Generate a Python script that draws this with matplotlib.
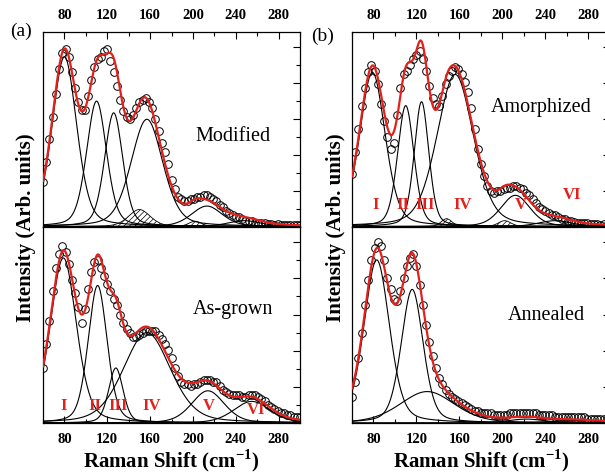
import numpy as np
import matplotlib
matplotlib.use('Agg')
import matplotlib.pyplot as plt

plt.rcParams['font.family'] = ['Liberation Serif', 'DejaVu Serif']
plt.rcParams['mathtext.fontset'] = 'custom'
plt.rcParams['mathtext.rm'] = 'Liberation Serif'
plt.rcParams['mathtext.bf'] = 'Liberation Serif:bold'
plt.rcParams['hatch.linewidth'] = 0.5

# Raman shift of the measured points (cm-1)
shift = np.arange(60, 301, 3)

# measured intensities (arb. units, normalised to panel height)
modified = [0.23, 0.33, 0.45, 0.56, 0.68, 0.81, 0.89, 0.91, 0.87, 0.79,
            0.71, 0.64, 0.60, 0.60, 0.67, 0.75, 0.82, 0.86, 0.87, 0.90,
            0.91, 0.85, 0.79, 0.72, 0.65, 0.59, 0.56, 0.55, 0.57, 0.61,
            0.64, 0.65, 0.66, 0.64, 0.61, 0.55, 0.49, 0.43, 0.38, 0.32,
            0.24, 0.19, 0.15, 0.14, 0.13, 0.13, 0.14, 0.14, 0.15, 0.15,
            0.16, 0.16, 0.15, 0.14, 0.13, 0.11, 0.10, 0.08, 0.07, 0.06,
            0.05, 0.05, 0.04, 0.03, 0.03, 0.03, 0.02, 0.02, 0.02, 0.02,
            0.015, 0.015, 0.01, 0.015, 0.01, 0.01, 0.01, 0.01, 0.01, 0.01,
            0.01]
as_grown = [0.28, 0.40, 0.52, 0.67, 0.79, 0.86, 0.90, 0.87, 0.81, 0.73,
            0.66, 0.59, 0.51, 0.58, 0.68, 0.77, 0.82, 0.83, 0.79, 0.75,
            0.71, 0.67, 0.63, 0.60, 0.55, 0.51, 0.48, 0.46, 0.44, 0.44,
            0.45, 0.46, 0.47, 0.47, 0.47, 0.47, 0.45, 0.43, 0.40, 0.37,
            0.33, 0.28, 0.24, 0.21, 0.20, 0.20, 0.19, 0.20, 0.20, 0.21,
            0.22, 0.22, 0.22, 0.21, 0.21, 0.19, 0.17, 0.16, 0.15, 0.14,
            0.14, 0.14, 0.13, 0.13, 0.14, 0.14, 0.14, 0.13, 0.12, 0.11,
            0.09, 0.08, 0.07, 0.06, 0.05, 0.05, 0.04, 0.04, 0.03, 0.03,
            0.03]
amorphized = [0.27, 0.38, 0.50, 0.62, 0.71, 0.79, 0.83, 0.80, 0.73, 0.63,
              0.54, 0.46, 0.40, 0.43, 0.57, 0.71, 0.78, 0.80, 0.83, 0.86,
              0.88, 0.90, 0.86, 0.80, 0.72, 0.66, 0.63, 0.62, 0.67, 0.73,
              0.77, 0.80, 0.82, 0.81, 0.78, 0.74, 0.69, 0.61, 0.50, 0.40,
              0.32, 0.26, 0.21, 0.18, 0.17, 0.18, 0.18, 0.19, 0.20, 0.20,
              0.21, 0.21, 0.20, 0.19, 0.17, 0.16, 0.14, 0.12, 0.10, 0.09,
              0.08, 0.07, 0.06, 0.06, 0.05, 0.04, 0.04, 0.03, 0.03, 0.025,
              0.02, 0.02, 0.02, 0.02, 0.015, 0.015, 0.015, 0.01, 0.015, 0.01,
              0.01]
annealed = [0.13, 0.21, 0.33, 0.46, 0.60, 0.73, 0.83, 0.89, 0.92, 0.90,
            0.83, 0.74, 0.68, 0.63, 0.62, 0.67, 0.74, 0.80, 0.84, 0.86,
            0.80, 0.70, 0.60, 0.50, 0.41, 0.34, 0.28, 0.23, 0.20, 0.17,
            0.15, 0.13, 0.12, 0.11, 0.10, 0.09, 0.08, 0.07, 0.06, 0.06,
            0.05, 0.05, 0.05, 0.05, 0.04, 0.04, 0.04, 0.04, 0.04, 0.05,
            0.05, 0.05, 0.05, 0.05, 0.05, 0.05, 0.05, 0.05, 0.04, 0.04,
            0.04, 0.04, 0.04, 0.03, 0.03, 0.03, 0.03, 0.03, 0.03, 0.03,
            0.03, 0.03, 0.03, 0.02, 0.02, 0.02, 0.02, 0.02, 0.02, 0.02,
            0.02]

# fitted bands: centre (cm-1), height, half width at half maximum
mod_centers = [80, 110, 126, 157, 213, 248]
mod_heights = [0.87, 0.643, 0.583, 0.55, 0.105, 0.03]
mod_widths = [13.5, 11, 10, 17.5, 17, 18]
mod_extra_centers = [150, 202]
mod_extra_heights = [0.087, 0.027]
mod_extra_widths = [12, 7]

grown_centers = [79, 111, 128, 157, 214, 255]
grown_heights = [0.84, 0.70, 0.28, 0.46, 0.164, 0.11]
grown_widths = [14.4, 10.5, 8, 26, 18, 20]

amo_centers = [79, 110, 124.7, 156, 212, 249]
amo_heights = [0.79, 0.62, 0.64, 0.78, 0.16, 0.03]
amo_widths = [14, 9, 8, 20, 16, 18]
amo_extra_centers = [148, 202]
amo_extra_heights = [0.04, 0.03]
amo_extra_widths = [6, 7]

ann_centers = [83, 116, 130, 222, 268]
ann_heights = [0.83, 0.68, 0.16, 0.02, 0.012]
ann_widths = [14, 12, 30, 20, 30]

mode_names = ['I', 'II', 'III', 'IV', 'V', 'VI']
grown_label_x = [79.5, 108.4, 129.8, 161.4, 214.4, 259]
grown_label_y = [0.045, 0.045, 0.045, 0.045, 0.045, 0.025]
amo_label_x = [81.6, 107.7, 127.8, 163.2, 217, 264.7]
amo_label_y = [0.07, 0.07, 0.07, 0.07, 0.07, 0.12]

tick_values = [80, 120, 160, 200, 240, 280]
RED = '#e3211c'


def pseudo_voigt(x, center, height, hwhm, eta=0.3):
    u = (x - center) / hwhm
    return height * (eta / (1 + u ** 2) + (1 - eta) * np.exp(-np.log(2) * u ** 2))


def draw_panel(ax, data, centers, heights, widths,
               extra=([], [], []), top=False):
    grid = np.linspace(60, 300, 601)
    total = np.zeros_like(grid)
    for c, h, w in zip(*extra):
        band = pseudo_voigt(grid, c, h, w)
        ax.fill_between(grid, 0, band, facecolor='none', edgecolor='black',
                        hatch='//////', lw=0.6, zorder=1)
        total += band
    for c, h, w in zip(centers, heights, widths):
        band = pseudo_voigt(grid, c, h, w)
        ax.plot(grid, band, color='black', lw=0.8, zorder=2)
        total += band
    ax.plot(shift, data, 'o', mfc='none', mec='black', ms=5.5, mew=0.7,
            zorder=3)
    ax.plot(grid, total, color=RED, lw=1.6, zorder=4)

    ax.set_xlim(60, 300)
    ax.set_ylim(0, 1)
    ax.set_xticks(tick_values)
    ax.set_xticklabels([str(t) for t in tick_values], fontweight='bold',
                       fontsize=10.5)
    ax.set_xticks(np.arange(60, 301, 20), minor=True)
    ax.set_yticks(np.arange(0, 1.0, 0.184))
    ax.set_yticks(np.arange(0, 1.0, 0.092), minor=True)
    ax.tick_params(axis='x', which='both', direction='in', width=0.8,
                   top=top, bottom=not top, labeltop=top,
                   labelbottom=not top, pad=7)
    ax.tick_params(axis='y', which='both', direction='in', width=0.8,
                   left=False, right=True, labelleft=False, labelright=False)
    ax.tick_params(which='major', length=5)
    ax.tick_params(which='minor', length=3)
    for s in ax.spines.values():
        s.set_linewidth(0.9)


fig = plt.figure(figsize=(6.05, 4.73), dpi=100)

ax_mod = fig.add_axes([0.0711, 0.5211, 0.4248, 0.4123])
ax_grown = fig.add_axes([0.0711, 0.1057, 0.4248, 0.4154])
ax_amo = fig.add_axes([0.5818, 0.5211, 0.4264, 0.4123])
ax_ann = fig.add_axes([0.5818, 0.1057, 0.4264, 0.4154])

draw_panel(ax_mod, modified, mod_centers, mod_heights, mod_widths,
           (mod_extra_centers, mod_extra_heights, mod_extra_widths), top=True)
draw_panel(ax_grown, as_grown, grown_centers, grown_heights, grown_widths)
draw_panel(ax_amo, amorphized, amo_centers, amo_heights, amo_widths,
           (amo_extra_centers, amo_extra_heights, amo_extra_widths), top=True)
draw_panel(ax_ann, annealed, ann_centers, ann_heights, ann_widths)

ax_mod.text(0.74, 0.46, 'Modified', transform=ax_mod.transAxes,
            ha='center', va='center', fontsize=14.5)
ax_grown.text(0.74, 0.58, 'As-grown', transform=ax_grown.transAxes,
              ha='center', va='center', fontsize=14.5)
ax_amo.text(0.735, 0.61, 'Amorphized', transform=ax_amo.transAxes,
            ha='center', va='center', fontsize=14.5)
ax_ann.text(0.754, 0.546, 'Annealed', transform=ax_ann.transAxes,
            ha='center', va='center', fontsize=14.5)

for name, x, y in zip(mode_names, grown_label_x, grown_label_y):
    ax_grown.text(x, y, name, color=RED, fontweight='bold', fontsize=12,
                  ha='center', va='bottom', zorder=5)
for name, x, y in zip(mode_names, amo_label_x, amo_label_y):
    ax_amo.text(x, y, name, color=RED, fontweight='bold', fontsize=12,
                ha='center', va='bottom', zorder=5)

fig.text(21 / 605, 1 - 31 / 473, '(a)', fontsize=14, ha='center', va='center')
fig.text(323 / 605, 1 - 36 / 473, '(b)', fontsize=14, ha='center', va='center')

for xpos in (26 / 605, 336 / 605):
    fig.text(xpos, 1 - 228 / 473, 'Intensity (Arb. units)', rotation=90,
             ha='center', va='center', fontsize=15, fontweight='bold')
for xpos in (171 / 605, 481 / 605):
    fig.text(xpos, 1 - 461 / 473, r'Raman Shift (cm$^{\mathbf{-1}}$)',
             ha='center', va='center', fontsize=15, fontweight='bold')

fig.savefig('out.png', dpi=100)
